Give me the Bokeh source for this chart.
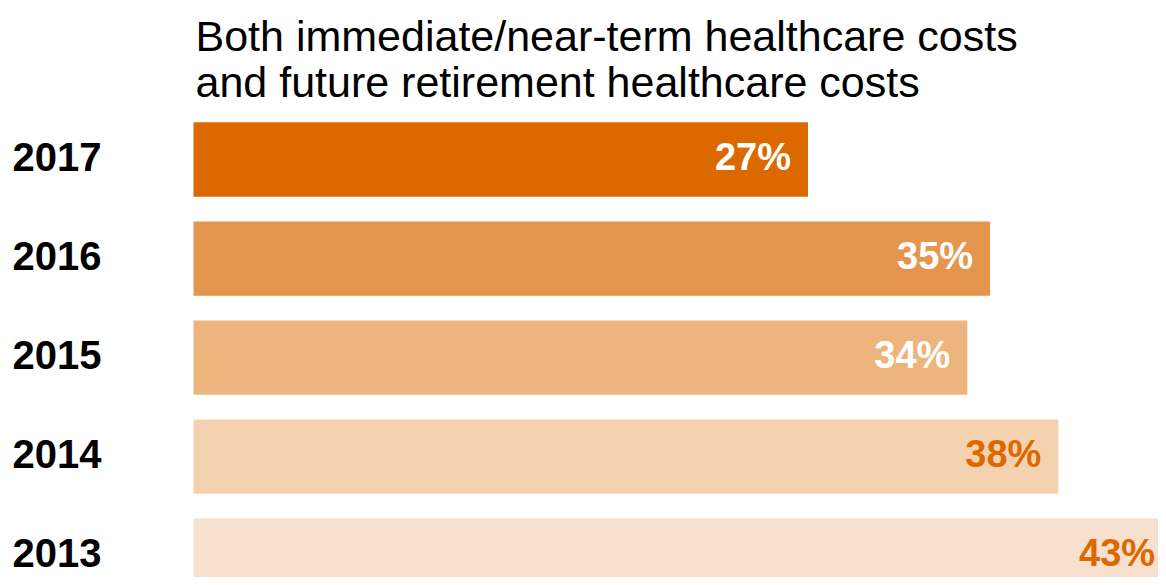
from bokeh.plotting import figure
from bokeh.models import ColumnDataSource, Range1d
from bokeh.core.properties import value
from bokeh.embed import file_html
from bokeh.resources import INLINE

# ---- data ----
years = ["2013", "2014", "2015", "2016", "2017"]
shares = [43, 38, 34, 35, 27]
share_labels = ["43%", "38%", "34%", "35%", "27%"]
title_lines = ["Both immediate/near-term healthcare costs",
               "and future retirement healthcare costs"]

# ---- styles ----
bar_colors = ["#F7E0CD", "#F4D2B0", "#EDB47E", "#E5964E", "#DC6900"]
label_colors = ["#DC6900", "#DC6900", "#FFFFFF", "#FFFFFF", "#FFFFFF"]
FONT = "Liberation Sans"

src = ColumnDataSource(dict(
    pos=list(range(len(years))),
    base=[0] * len(years),
    share=shares,
    label=share_labels,
    year=years,
    color=bar_colors,
    lcolor=label_colors,
))

Y_TOP = 5.606
p = figure(width=1158, height=577, output_backend="svg", toolbar_location=None,
           x_range=Range1d(-8.48, 42.40), y_range=Range1d(-0.222, Y_TOP),
           min_border=0, outline_line_color=None)
p.axis.visible = False
p.grid.visible = False
p.background_fill_color = "white"
p.border_fill_color = "white"

p.hbar(y="pos", left="base", right="share", height=0.75, source=src,
       fill_color="color", line_color=None)

p.text(x="share", y="pos", text="label", source=src, text_color="lcolor",
       text_align="right", text_baseline="alphabetic", x_offset=-17, y_offset=-3,
       text_font=value(FONT), text_font_style="bold", text_font_size="38px")

p.text(x="base", y="pos", text="year", source=src, text_color="#000000",
       text_align="left", text_baseline="alphabetic", x_offset=-181, y_offset=-3,
       text_font=value(FONT), text_font_style="bold", text_font_size="40px")

for i, line in enumerate(title_lines):
    p.text(x=[0], y=[Y_TOP], text=[line], text_color="#000000",
           text_align="left", text_baseline="alphabetic", x_offset=2,
           y_offset=35 + 46 * i,
           text_font=value(FONT), text_font_size="43px")

open("out.html", "w").write(file_html(p, INLINE))
